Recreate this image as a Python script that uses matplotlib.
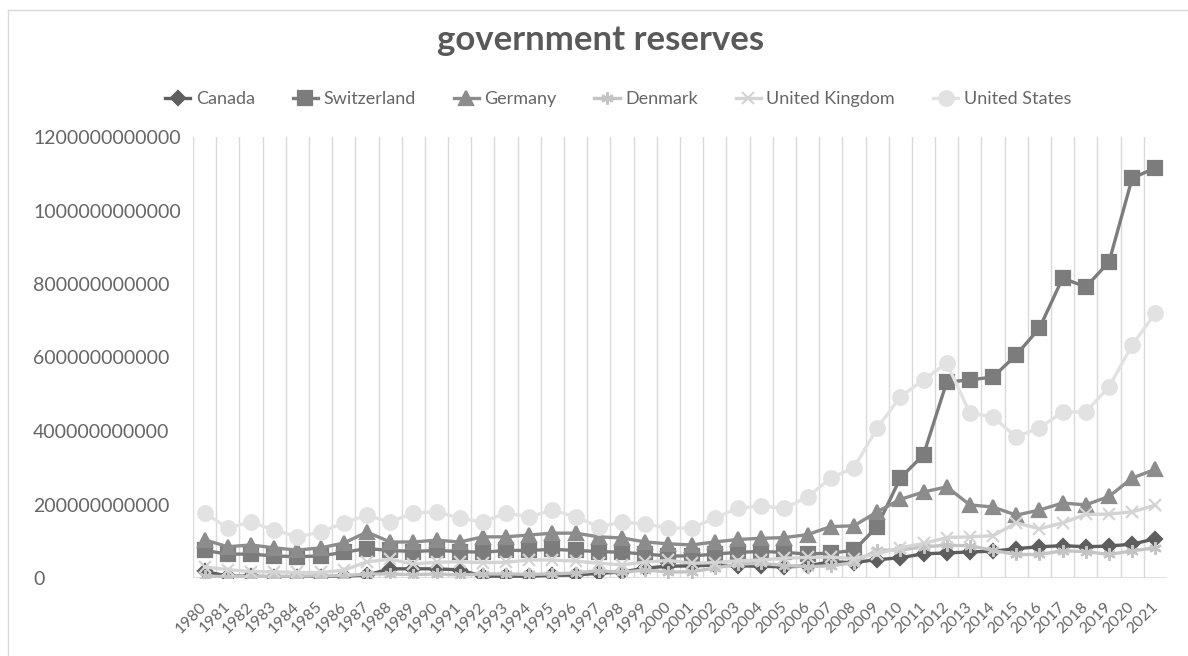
import numpy as np
import matplotlib
matplotlib.use("Agg")
import matplotlib.pyplot as plt
from matplotlib.lines import Line2D

plt.rcParams['font.family'] = ['Lato', 'DejaVu Sans']

years = [str(y) for y in range(1980, 2022)]

# values in billions of US$
canada = [18, 5, 5, 3, 2, 3, 5, 8, 25, 25, 25, 22, 5, 5, 5, 7, 8, 13, 16, 27,
          32, 33, 35, 33, 32, 30, 33, 44, 42, 50, 55, 66, 68, 71, 73, 80, 85, 88,
          85, 87, 92, 107]
switzerland = [75, 65, 65, 60, 58, 60, 70, 80, 75, 72, 75, 72, 70, 75, 75, 78,
               75, 72, 70, 65, 60, 60, 65, 70, 72, 70, 65, 68, 75, 140, 272, 335,
               533, 539, 547, 607, 680, 816, 792, 860, 1088, 1116]
germany = [104, 85, 90, 82, 76, 82, 95, 125, 98, 98, 103, 98, 112, 112, 117, 122,
           122, 112, 109, 98, 93, 90, 98, 105, 108, 110, 118, 140, 142, 180, 214,
           234, 248, 199, 193, 171, 185, 204, 199, 222, 272, 296]
denmark = [5, 4, 4, 5, 5, 6, 6, 11, 11, 9, 11, 8, 11, 11, 10, 11, 14, 20, 15, 22,
           16, 17, 27, 38, 40, 34, 31, 33, 42, 76, 76, 85, 89, 88, 75, 64, 64, 74,
           72, 64, 74, 82]
uk = [30, 23, 17, 17, 15, 15, 21, 44, 51, 38, 43, 44, 42, 43, 49, 49, 46, 40, 36,
      43, 48, 40, 42, 47, 49, 54, 56, 57, 53, 66, 82, 94, 110, 112, 115, 150, 134,
      150, 173, 174, 180, 198]
us = [177, 136, 152, 131, 112, 125, 150, 171, 152, 177, 180, 163, 152, 177, 166,
      185, 166, 139, 152, 147, 136, 136, 163, 190, 196, 190, 220, 272, 300, 408,
      493, 539, 585, 449, 438, 384, 408, 452, 452, 520, 634, 721]

series = [
    ("Canada", canada, '#5e5e5e', 'D', 7),
    ("Switzerland", switzerland, '#7c7c7c', 's', 10),
    ("Germany", germany, '#8c8c8c', '^', 10),
    ("Denmark", denmark, '#c4c4c4', (6, 2, 0), 9),
    ("United Kingdom", uk, '#d4d4d4', 'x', 8),
    ("United States", us, '#e2e2e2', 'o', 10.5),
]

fig = plt.figure(figsize=(11.88, 6.56), dpi=100)
ax = fig.add_axes([193/1188, 78/656, 974/1188, 441/656])

x = np.arange(len(years))
for name, vals, col, mk, ms in series:
    ax.plot(x, np.array(vals) * 1e9, color=col, lw=2.4, marker=mk, ms=ms,
            mec=col, mfc=col, mew=1.6, label=name)

ax.set_xlim(-0.5, len(years) - 0.5)
ax.set_ylim(0, 1.2e12)
ax.set_yticks(np.arange(0, 1.2e12 + 1, 2e11))
ax.set_yticklabels(['%d' % v for v in np.arange(0, 1.2e12 + 1, 2e11)])
ax.set_xticks(x)
ax.set_xticklabels(years)

# vertical gridlines between categories
for k in range(len(years)):
    ax.axvline(k - 0.5, color='#d9d9d9', lw=1, zorder=0)
ax.axhline(0, color='#d9d9d9', lw=1.2, zorder=0.5)

for s in ax.spines.values():
    s.set_visible(False)
ax.tick_params(axis='both', length=0, colors='#666666')
ax.tick_params(axis='y', labelsize=14, pad=115)
for lab in ax.get_yticklabels():
    lab.set_horizontalalignment('left')
ax.tick_params(axis='x', labelsize=11.5, pad=19)
for lab in ax.get_xticklabels():
    lab.set_rotation(45)
    lab.set_ha('right')
    lab.set_va('center')
    lab.set_rotation_mode('anchor')

fig.suptitle('government reserves', x=601/1188, y=1 - 40/656, va='center',
             fontsize=25, fontweight='bold', color='#595959')

fig.legend(loc='center', bbox_to_anchor=(618/1188, 1 - 99/656), ncol=6,
           frameon=False, fontsize=13, labelcolor='#666666', handlelength=1.4,
           handletextpad=0.3, columnspacing=2.1)

# chart border (top and left edges visible)
fig.add_artist(Line2D([8/1188, 1.0], [1 - 10/656, 1 - 10/656], color='#d9d9d9', lw=1))
fig.add_artist(Line2D([8/1188, 8/1188], [0, 1 - 10/656], color='#d9d9d9', lw=1))

fig.savefig('out.png', dpi=100)
